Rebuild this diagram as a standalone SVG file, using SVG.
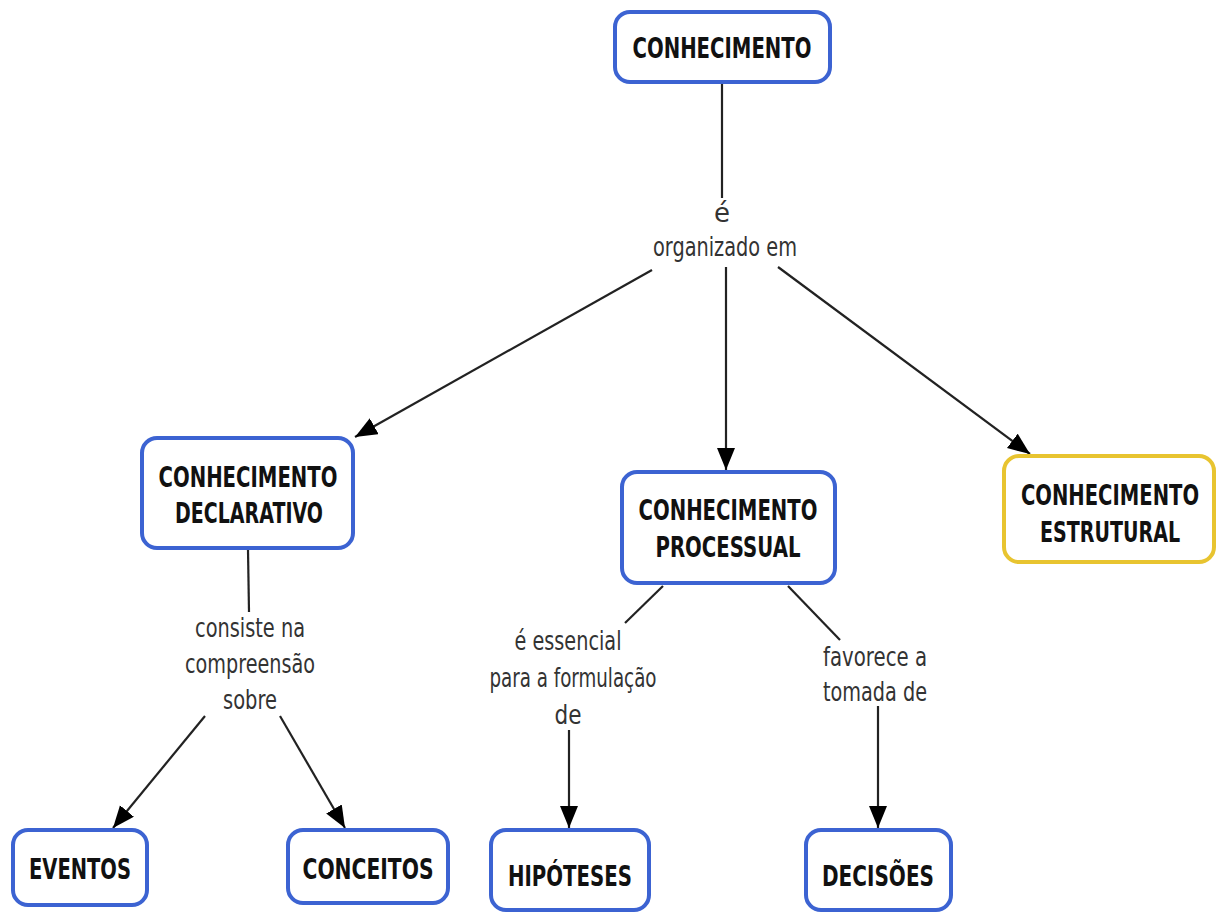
<svg xmlns="http://www.w3.org/2000/svg" width="1219" height="913" viewBox="0 0 1219 913">
<style>
.box{fill:#ffffff;stroke:#3c63d2;stroke-width:4}
.yel{fill:#ffffff;stroke:#e8c430;stroke-width:4}
.nt{font-family:"DejaVu Sans",Verdana,sans-serif;font-weight:bold;font-size:29px;fill:#111;text-anchor:middle}
.lt{font-family:"DejaVu Sans",Verdana,sans-serif;font-size:26px;fill:#333;text-anchor:middle}
.ln{stroke:#222;stroke-width:2.2;fill:none}
.ar{marker-end:url(#arr)}
</style>
<defs>
<marker id="arr" markerUnits="userSpaceOnUse" markerWidth="24" markerHeight="20" refX="22" refY="9" orient="auto">
<path d="M0,0 L22,9 L0,18 Z" fill="#000"/>
</marker>
</defs>
<rect width="1219" height="913" fill="#ffffff"/>
<g id="connectors">
<line class="ln" x1="722" y1="84" x2="722" y2="198"/>
<line class="ln ar" x1="652" y1="270" x2="355" y2="437"/>
<line class="ln ar" x1="726" y1="267" x2="726" y2="470"/>
<line class="ln ar" x1="778" y1="267" x2="1030" y2="454"/>
<line class="ln" x1="248" y1="550" x2="249" y2="612"/>
<line class="ln ar" x1="205" y1="716" x2="113" y2="828"/>
<line class="ln ar" x1="280" y1="716" x2="345" y2="828"/>
<line class="ln" x1="663" y1="586" x2="625" y2="623"/>
<line class="ln ar" x1="569" y1="730" x2="569" y2="828"/>
<line class="ln" x1="788" y1="586" x2="840" y2="640"/>
<line class="ln ar" x1="878" y1="706" x2="878" y2="828"/>
</g>
<g id="labels">
<text class="lt" x="722" y="222">é</text>
<text class="lt" x="725" y="256" textLength="144" lengthAdjust="spacingAndGlyphs">organizado em</text>
<text class="lt" x="250" y="637" textLength="110" lengthAdjust="spacingAndGlyphs">consiste na</text>
<text class="lt" x="250" y="673" textLength="130" lengthAdjust="spacingAndGlyphs">compreensão</text>
<text class="lt" x="250" y="709" textLength="54" lengthAdjust="spacingAndGlyphs">sobre</text>
<text class="lt" x="568" y="650" textLength="107" lengthAdjust="spacingAndGlyphs">é essencial</text>
<text class="lt" x="573" y="687" textLength="167" lengthAdjust="spacingAndGlyphs">para a formulação</text>
<text class="lt" x="568" y="724" textLength="27" lengthAdjust="spacingAndGlyphs">de</text>
<text class="lt" x="875" y="666" textLength="104" lengthAdjust="spacingAndGlyphs">favorece a</text>
<text class="lt" x="875" y="701" textLength="104" lengthAdjust="spacingAndGlyphs">tomada de</text>
</g>
<g id="n-conhecimento">
<rect class="box" x="615" y="12" width="215" height="70" rx="15"/>
<text class="nt" x="722" y="58" textLength="179" lengthAdjust="spacingAndGlyphs">CONHECIMENTO</text>
</g>
<g id="n-declarativo">
<rect class="box" x="142" y="438" width="211" height="110" rx="15"/>
<text class="nt" x="248" y="487" textLength="179" lengthAdjust="spacingAndGlyphs">CONHECIMENTO</text>
<text class="nt" x="249" y="523" textLength="148" lengthAdjust="spacingAndGlyphs">DECLARATIVO</text>
</g>
<g id="n-processual">
<rect class="box" x="622" y="472" width="213" height="111" rx="15"/>
<text class="nt" x="728" y="520" textLength="179" lengthAdjust="spacingAndGlyphs">CONHECIMENTO</text>
<text class="nt" x="728" y="557" textLength="145" lengthAdjust="spacingAndGlyphs">PROCESSUAL</text>
</g>
<g id="n-estrutural">
<rect class="yel" x="1004" y="456" width="210" height="106" rx="15"/>
<g transform="translate(1110,0) scale(0.68,1)">
<text class="nt" x="0" y="505" textLength="262" lengthAdjust="spacingAndGlyphs">CONHECIMENTO</text>
<text class="nt" x="0" y="542" textLength="206" lengthAdjust="spacingAndGlyphs">ESTRUTURAL</text>
</g>
</g>
<g id="n-eventos">
<rect class="box" x="13" y="830" width="134" height="75" rx="15"/>
<text class="nt" x="80" y="879" textLength="102" lengthAdjust="spacingAndGlyphs">EVENTOS</text>
</g>
<g id="n-conceitos">
<rect class="box" x="288" y="830" width="160" height="73" rx="15"/>
<text class="nt" x="368" y="879" textLength="131" lengthAdjust="spacingAndGlyphs">CONCEITOS</text>
</g>
<g id="n-hipoteses">
<rect class="box" x="491" y="830" width="158" height="80" rx="15"/>
<text class="nt" x="570" y="886" textLength="124" lengthAdjust="spacingAndGlyphs">HIPÓTESES</text>
</g>
<g id="n-decisoes">
<rect class="box" x="806" y="830" width="145" height="80" rx="15"/>
<text class="nt" x="878" y="886" textLength="112" lengthAdjust="spacingAndGlyphs">DECISÕES</text>
</g>
</svg>
